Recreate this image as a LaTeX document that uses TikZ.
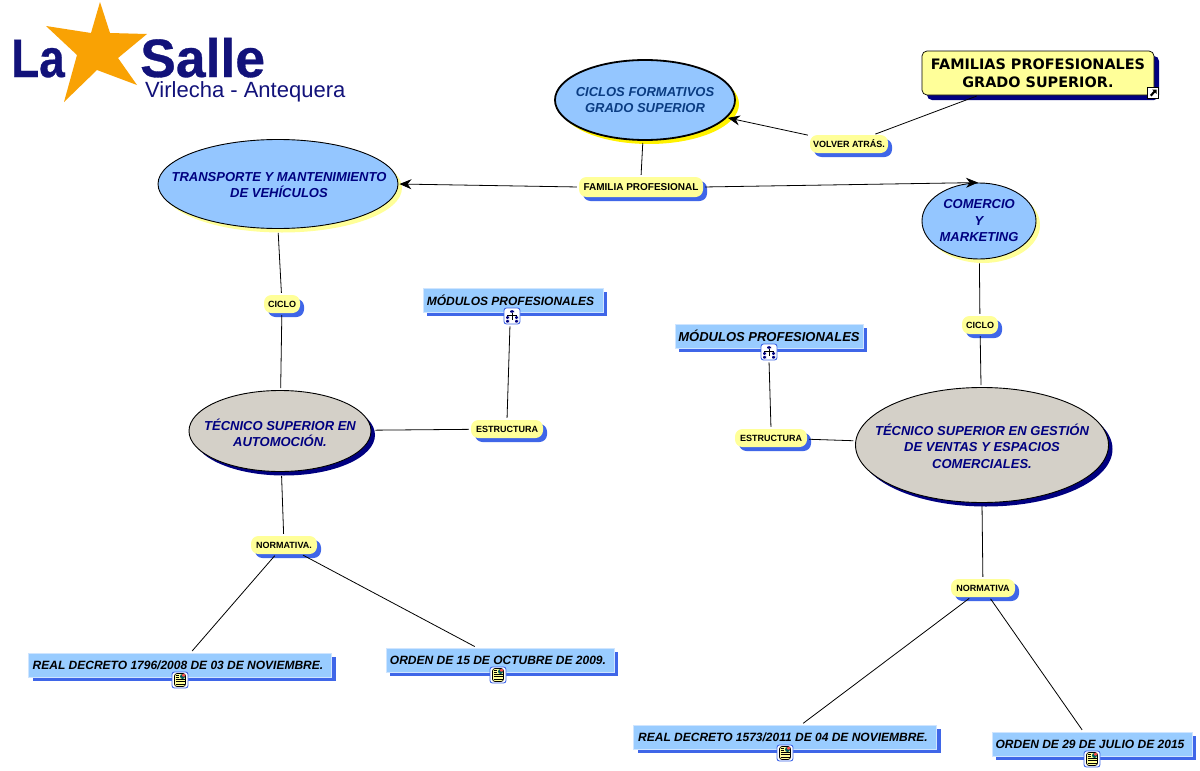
\documentclass[tikz,border=0pt]{standalone}
\usepackage{fontspec}
\setmainfont{Liberation Sans}
\newfontfamily\headfont{DejaVu Sans}
\newfontfamily\logofont[FakeBold=0.6]{Liberation Sans Bold}
\usetikzlibrary{shapes.geometric,shadows,arrows.meta}
\definecolor{skyfill}{HTML}{94C6FF}
\definecolor{boxfill}{HTML}{99CCFF}
\definecolor{boxedge}{HTML}{CFE5FF}
\definecolor{royal}{HTML}{3F66E8}
\definecolor{navyx}{HTML}{000080}
\definecolor{deepx}{HTML}{0A3C82}
\definecolor{logoblue}{HTML}{12127A}
\definecolor{paleY}{HTML}{FFFF99}
\definecolor{greyfill}{HTML}{D4D0C8}
\definecolor{starorange}{HTML}{F9A204}
\newcommand{\padr}[1]{\mbox{}\kern#1\mbox{}}
\tikzset{
  x=1pt,y=-1pt,
  conceptfont/.style={font=\bfseries\itshape\fontsize{13}{16.5}\selectfont,align=center,text=navyx,inner sep=0pt},
  oval/.style={ellipse,draw=black,line width=0.9pt,inner sep=0pt},
  skyoval/.style={oval,fill=skyfill,drop shadow={shadow xshift=4pt,shadow yshift=-4pt,fill=paleY,opacity=1}},
  greyoval/.style={oval,fill=greyfill,drop shadow={shadow xshift=4pt,shadow yshift=-4pt,fill=navyx,opacity=1}},
  pill/.style={rectangle,rounded corners=7.5pt,fill=paleY,inner sep=0pt,minimum height=18pt,
    font=\bfseries\fontsize{9}{11}\selectfont,text=black,
    drop shadow={shadow xshift=4pt,shadow yshift=-4pt,fill=royal,opacity=1}},
  res/.style={rectangle,fill=boxfill,draw=boxedge,line width=1pt,inner sep=0pt,minimum height=24pt,
    font=\bfseries\itshape\fontsize{12}{14}\selectfont,text=black,
    drop shadow={shadow xshift=4pt,shadow yshift=-4pt,fill=royal,opacity=1}},
  badge/.style={rectangle,rounded corners=2.5pt,draw=royal,line width=0.9pt,fill=white,minimum size=16pt,inner sep=0pt},
  conn/.style={draw=black,line width=0.8pt,shorten <=2pt,shorten >=2pt},
  arrowconn/.style={conn,-{Stealth[length=12pt,width=10pt]},shorten >=1pt},
}
\newcommand{\treeglyph}{\begin{scope}[shift={(path picture bounding box.center)}]
  \fill[navyx] (-2,-6) rectangle (2,-3);
  \fill[navyx] (-6,0) rectangle (-3,3);\fill[navyx] (3,0) rectangle (6,3);
  \fill[navyx] (-6,4) rectangle (-3,6.5);\fill[navyx] (3,4) rectangle (6,6.5);
  \draw[black,line width=0.6pt] (0,-3) -- (0,4) (-4.5,-1) -- (4.5,-1) (-4.5,-1) -- (-4.5,0) (4.5,-1) -- (4.5,0);
\end{scope}}
\newcommand{\docglyph}{\begin{scope}[shift={(path picture bounding box.center)}]
  \fill[paleY] (-5.5,-6.5) rectangle (5.5,6.5);
  \draw[black,line width=0.7pt] (-5.5,-6.5) rectangle (5.5,6.5);
  \fill[teal!70!black] (0,-6) rectangle (5,-1);
  \fill[red!70!white] (2,-6) rectangle (5,-3.5);
  \draw[black,line width=0.8pt] (-4.5,-4.5) -- (-1,-4.5) (-4.5,-2.5) -- (-1,-2.5) (-4.5,-0.5) -- (4.5,-0.5) (-4.5,1.8) -- (4.5,1.8) (-4.5,4.2) -- (4.5,4.2);
\end{scope}}
\begin{document}
\begin{tikzpicture}
\useasboundingbox (0,0) rectangle (1200,771);
\fill[white] (0,0) rectangle (1200,771);

% logo
\node[anchor=base west,inner sep=0pt,text=logoblue,text depth=0pt,font=\logofont\fontsize{54}{54}\selectfont] (logoa) at (11,77) {\scalebox{0.85}[1]{La}};
\node[anchor=base west,inner sep=0pt,text=logoblue,text depth=0pt,font=\logofont\fontsize{54}{54}\selectfont] (logob) at (140,77) {\scalebox{0.99}[1]{Salle}};
\node[anchor=base west,inner sep=0pt,text=logoblue,font=\fontsize{22}{22}\selectfont] (logoc) at (145,97) {Virlecha - Antequera};
\fill[starorange] (100,2) -- (110,33) -- (147,34) -- (118,58) -- (137,85) -- (97,70) -- (64,102) -- (77,55) -- (46,26) -- (91,33) -- cycle;

% concepts
\node[skyoval,minimum width=240pt,minimum height=89pt] (trans) at (278,184) {};
\node[conceptfont] (transt) at (279,185) {TRANSPORTE Y MANTENIMIENTO\\DE VEHÍCULOS};
\node[oval,line width=1.8pt,fill=skyfill,minimum width=180pt,minimum height=80pt,
  drop shadow={shadow xshift=4pt,shadow yshift=-4pt,fill=yellow,opacity=1}] (ciclos) at (645,100) {};
\node[conceptfont,text=deepx] (ciclost) at (645,100) {CICLOS FORMATIVOS\\GRADO SUPERIOR};
\node[skyoval,minimum width=114pt,minimum height=76pt] (comer) at (979,221) {};
\node[conceptfont] (comert) at (979,221) {COMERCIO\\Y\\MARKETING};
\node[greyoval,minimum width=182pt,minimum height=81pt] (auto) at (280,431) {};
\node[conceptfont] (autot) at (280,433) {TÉCNICO SUPERIOR EN\\AUTOMOCIÓN.};
\node[greyoval,minimum width=253pt,minimum height=115pt] (gest) at (982,445) {};
\node[conceptfont] (gestt) at (982,446) {TÉCNICO SUPERIOR EN GESTIÓN\\DE VENTAS Y ESPACIOS\\COMERCIALES.};

% top-right box
\node[rectangle,rounded corners=5pt,draw=black,line width=0.7pt,fill=paleY,minimum width=232pt,minimum height=44pt,inner sep=0pt,
  font=\headfont\bfseries\fontsize{14.4}{18}\selectfont,align=center,
  drop shadow={shadow xshift=5pt,shadow yshift=-5pt,fill=navyx,opacity=1}] (fam) at (1038,73) {FAMILIAS PROFESIONALES\\GRADO SUPERIOR.};
\node[rectangle,draw=black,line width=0.8pt,fill=white,minimum size=11pt,inner sep=0pt,
  path picture={\begin{scope}[shift={(path picture bounding box.center)}]
    \fill[black] (-1,-3.5) -- (3.5,-3.5) -- (3.5,1) -- (2,-0.5) -- (-1.5,3.5) -- (-3,2) -- (0.5,-2) -- cycle;
  \end{scope}}] (extlink) at (1153,93) {};

% linking phrases
\node[pill,minimum width=78pt] (volver) at (849,144) {VOLVER ATRÁS.};
\node[pill,minimum width=124pt,minimum height=20pt,font=\bfseries\fontsize{10}{12}\selectfont] (famil) at (641,187) {FAMILIA PROFESIONAL};
\node[pill,minimum width=36pt] (cicloa) at (282,304) {CICLO};
\node[pill,minimum width=36pt] (ciclob) at (980,325) {CICLO};
\node[pill,minimum width=72pt] (estra) at (507,429) {ESTRUCTURA};
\node[pill,minimum width=72pt] (estrb) at (771,438) {ESTRUCTURA};
\node[pill,minimum width=66pt] (norma) at (284,545) {NORMATIVA.};
\node[pill,minimum width=64pt] (normb) at (983,588) {NORMATIVA};

% resources
\node[res,minimum width=180pt,minimum height=24pt] (moda) at (513,300) {MÓDULOS PROFESIONALES\padr{5pt}};
\node[res,minimum width=188pt,minimum height=24pt,font=\bfseries\itshape\fontsize{13}{15}\selectfont] (modb) at (769,336) {MÓDULOS PROFESIONALES};
\node[res,minimum width=303pt] (reala) at (180,665) {REAL DECRETO 1796/2008 DE 03 DE NOVIEMBRE.\padr{4pt}};
\node[res,minimum width=228pt] (orda) at (500,660) {ORDEN DE 15 DE OCTUBRE DE 2009.\padr{4pt}};
\node[res,minimum width=303pt] (realb) at (785,737) {REAL DECRETO 1573/2011 DE 04 DE NOVIEMBRE.\padr{4pt}};
\node[res,minimum width=200pt] (ordb) at (1092,744) {ORDEN DE 29 DE JULIO DE 2015\padr{4pt}};

% badges
\node[badge,path picture={\treeglyph}] (ia) at (512,316) {};
\node[badge,path picture={\treeglyph}] (ib) at (769,352) {};
\node[badge,path picture={\docglyph}] (ic) at (180,680) {};
\node[badge,path picture={\docglyph}] (id) at (498,675) {};
\node[badge,path picture={\docglyph}] (ie) at (785,753) {};
\node[badge,path picture={\docglyph}] (ig) at (1092,759) {};

% connectors
\draw[conn] (ciclos) -- (famil.north);
\draw[arrowconn] (famil.west) -- (trans.east);
\draw[arrowconn] (famil.east) -- (comer.north);
\draw[arrowconn] (volver) -- (ciclos);
\draw[conn] (fam) -- (volver);
\draw[conn,shorten <=4pt] (trans.south) -- (cicloa);
\draw[conn] (cicloa) -- (auto);
\draw[conn,shorten <=4pt] (auto) -- (estra);
\draw[conn] (estra.north) -- ([xshift=-2pt]ia.south);
\draw[conn,shorten <=4pt] (auto) -- (norma);
\draw[conn] (norma) -- (reala);
\draw[conn] (norma) -- (orda);
\draw[conn,shorten <=4pt] (comer) -- (ciclob);
\draw[conn] (ciclob) -- (gest);
\draw[conn] (gest) -- (estrb);
\draw[conn] (estrb.north) -- (ib.south);
\draw[conn,shorten <=3pt] (gest.south) -- (normb);
\draw[conn] (normb) -- (realb);
\draw[conn] (normb) -- (ordb);
\end{tikzpicture}
\end{document}
